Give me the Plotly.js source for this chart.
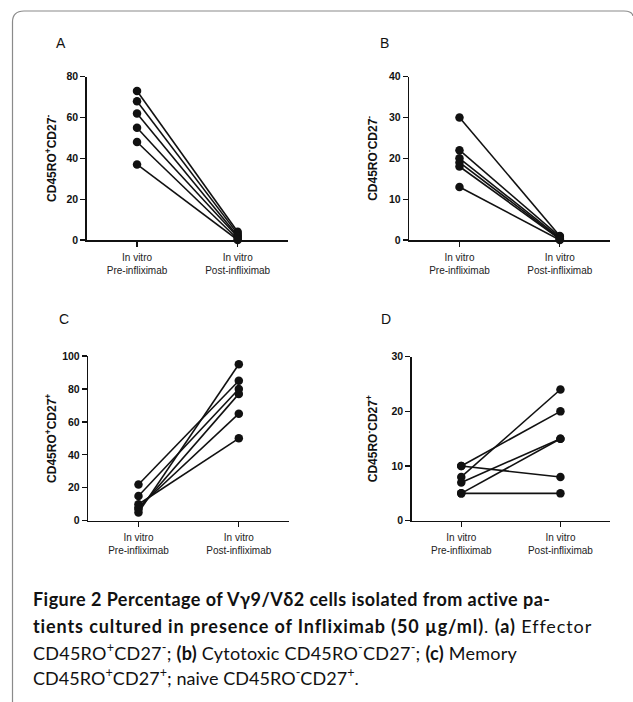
<!DOCTYPE html>
<html>
<head>
<meta charset="utf-8">
<script src="https://cdn.plot.ly/plotly-3.0.1.min.js"></script>
<style>html,body{margin:0;padding:0;background:#fff;}#chart{width:633px;height:702px;}</style>
</head>
<body>
<div id="chart"></div>
<script>
// ---- data ----
const categories = ["In vitro<br>Pre-infliximab", "In vitro<br>Post-infliximab"];
const aPre  = [73, 68, 62, 55, 48, 37];
const aPost = [4, 3, 2, 1.5, 0.5, 0];
const bPre  = [30, 22, 20, 19, 18, 13];
const bPost = [1, 0.8, 0.5, 0.3, 0.2, 0];
const cPre  = [22, 15, 10, 8, 7, 5];
const cPost = [85, 80, 50, 65, 77, 95];
const dPre  = [10, 10, 8, 7, 5, 5];
const dPost = [20, 8, 24, 15, 15, 5];
const aTicks = [0, 20, 40, 60, 80];
const bTicks = [0, 10, 20, 30, 40];
const cTicks = [0, 20, 40, 60, 80, 100];
const dTicks = [0, 10, 20, 30];
const yTitles = [
  "CD45RO<sup>+</sup>CD27<sup>-</sup>",
  "CD45RO<sup>-</sup>CD27<sup>-</sup>",
  "CD45RO<sup>+</sup>CD27<sup>+</sup>",
  "CD45RO<sup>-</sup>CD27<sup>+</sup>"
];
const panelLabels = ["A", "B", "C", "D"];
const captionLines = [
  "<b>Figure 2 Percentage of Vγ9/Vδ2 cells isolated from active pa-</b>",
  "<b>tients cultured in presence of Infliximab (50 µg/ml)</b>. <b>(a)</b> Effector",
  "CD45RO<sup>+</sup>CD27<sup>-</sup>; <b>(b)</b> Cytotoxic CD45RO<sup>-</sup>CD27<sup>-</sup>; <b>(c)</b> Memory",
  "CD45RO<sup>+</sup>CD27<sup>+</sup>; naive CD45RO<sup>-</sup>CD27<sup>+</sup>."
];

// ---- layout helpers ----
const W = 633, H = 702;
const px = x => x / W;
const py = y => 1 - y / H;
const FONT = "Liberation Sans, Arial, sans-serif";
const CAPFONT = "Lato, Noto Sans, sans-serif";

const panels = [
  {pre: aPre, post: aPost, ticks: aTicks, x0: 86.7, x1: 288, yTop: 76.7, yBot: 240, lx: 61, ly: 43, so: 7},
  {pre: bPre, post: bPost, ticks: bTicks, x0: 409.3, x1: 610, yTop: 76.7, yBot: 240, lx: 384, ly: 43, so: 9},
  {pre: cPre, post: cPost, ticks: cTicks, x0: 88.3, x1: 289, yTop: 356, yBot: 520.7, lx: 64, ly: 319, so: 3},
  {pre: dPre, post: dPost, ticks: dTicks, x0: 411.7, x1: 610, yTop: 356.7, yBot: 520.7, lx: 385.5, ly: 319, so: 11}
];

const traces = [];
const layout = {
  width: W, height: H,
  margin: {l: 0, r: 0, t: 0, b: 0},
  paper_bgcolor: "#fff", plot_bgcolor: "rgba(0,0,0,0)",
  showlegend: false,
  font: {family: FONT, color: "#111", size: 10},
  annotations: [],
  shapes: []
};

panels.forEach((p, i) => {
  const n = i + 1;
  const xa = "x" + (n === 1 ? "" : n), ya = "y" + (n === 1 ? "" : n);
  for (let k = 0; k < p.pre.length; k++) {
    traces.push({
      type: "scatter", mode: "lines+markers",
      x: categories, y: [p.pre[k], p.post[k]],
      xaxis: xa, yaxis: ya,
      line: {color: "#111", width: 1.6},
      marker: {color: "#111", size: 8.5},
      cliponaxis: false, hoverinfo: "skip"
    });
  }
  const top = p.ticks[p.ticks.length - 1];
  layout["xaxis" + (n === 1 ? "" : n)] = {
    domain: [px(p.x0), px(p.x1)],
    anchor: ya,
    type: "category",
    range: [-0.5, 1.5],
    showline: true, linecolor: "#111", linewidth: 1.5,
    ticks: "outside", ticklen: 5, tickwidth: 1.3, tickcolor: "#111",
    ticklabelstandoff: 2,
    showgrid: false, zeroline: false, fixedrange: true,
    tickfont: {family: FONT, size: 10, color: "#222"}
  };
  layout["yaxis" + (n === 1 ? "" : n)] = {
    domain: [py(p.yBot), py(p.yTop)],
    anchor: xa,
    range: [0, top],
    tickvals: p.ticks,
    showline: true, linecolor: "#111", linewidth: 1.5,
    ticks: "outside", ticklen: 5, tickwidth: 1.3, tickcolor: "#111",
    showgrid: false, zeroline: false, fixedrange: true,
    tickfont: {family: FONT, size: 10.5, color: "#111", weight: "bold"},
    title: {text: yTitles[i], font: {family: FONT, size: 12, color: "#111", weight: "bold"}, standoff: p.so}
  };
  layout.annotations.push({
    text: panelLabels[i], xref: "paper", yref: "paper",
    x: px(p.lx), y: py(p.ly), xanchor: "center", yanchor: "middle",
    showarrow: false, font: {family: FONT, size: 14, color: "#111"}
  });
});

const capY = [599, 626, 652, 677];
const capSpacing = [0.45, 0.9, 0.25, 0.05];
captionLines.forEach((t, i) => {
  layout.annotations.push({
    text: '<span style="letter-spacing:' + capSpacing[i] + 'px">' + t + '</span>',
    xref: "paper", yref: "paper",
    x: px(31), y: py(capY[i]), xanchor: "left", yanchor: "middle",
    showarrow: false, align: "left",
    font: {family: CAPFONT, size: 18, color: "#111"}
  });
});

// figure frame with rounded top-left corner
const f = (x, y) => px(x).toFixed(5) + "," + py(y).toFixed(5);
layout.shapes.push({
  type: "path", xref: "paper", yref: "paper",
  path: "M" + f(12.5, 702) + " L" + f(12.5, 22) + " Q" + f(12.5, 11) + " " + f(24, 11) +
        " L" + f(624, 11) + " Q" + f(632, 11) + " " + f(633, 16),
  line: {color: "#8a8a8a", width: 1.2}
});

Plotly.newPlot("chart", traces, layout, {staticPlot: true, displayModeBar: false});
</script>
</body>
</html>
